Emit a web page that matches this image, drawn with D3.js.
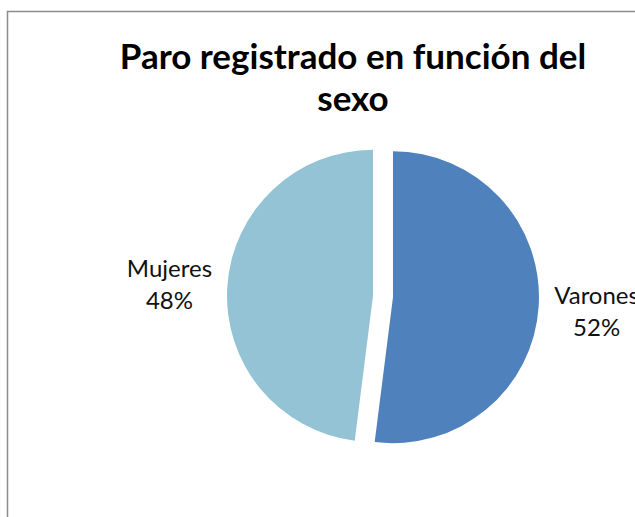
<!DOCTYPE html>
<html>
<head>
<meta charset="utf-8">
<script src="https://cdn.jsdelivr.net/npm/d3@7"></script>
<style>
  html, body { margin: 0; padding: 0; background: #fff; overflow: hidden; }
  svg { display: block; font-family: Lato, "Open Sans", sans-serif; }
</style>
</head>
<body>
<div id="chart"></div>
<script>
// Data
const categories = ["Varones", "Mujeres"];
const shares = [52, 48];
const colors = ["#4F81BD", "#93C3D4"];
const titleLines = ["Paro registrado en función del", "sexo"];

const width = 635, height = 517;
const cx = 383, cy = 296.5;
const radius = 146;
const explode = 10;

const svg = d3.select("#chart")
  .append("svg")
  .attr("width", width)
  .attr("height", height);

// chart border (extends past the right and bottom edges)
svg.append("rect")
  .attr("x", 7.5)
  .attr("y", 11.5)
  .attr("width", 700)
  .attr("height", 600)
  .attr("fill", "#fff")
  .attr("stroke", "#8c8c8c")
  .attr("stroke-width", 1.5);

// title
svg.append("text")
  .attr("x", 353)
  .attr("y", 69)
  .attr("text-anchor", "middle")
  .attr("font-size", 35)
  .attr("font-weight", "bold")
  .selectAll("tspan")
  .data(titleLines)
  .enter()
  .append("tspan")
  .attr("x", 353)
  .attr("dy", (d, i) => (i === 0 ? 0 : 42))
  .text((d) => d);

const data = categories.map((c, i) => ({ name: c, value: shares[i], color: colors[i] }));

const pie = d3.pie()
  .sort(null)
  .value((d) => d.value);

const arcs = pie(data);

const arc = d3.arc()
  .innerRadius(0)
  .outerRadius(radius);

const g = svg.append("g")
  .attr("transform", `translate(${cx},${cy})`);

g.selectAll("path")
  .data(arcs)
  .enter()
  .append("path")
  .attr("transform", (d) => {
    const a = (d.startAngle + d.endAngle) / 2;
    return `translate(${explode * Math.sin(a)},${-explode * Math.cos(a)})`;
  })
  .attr("d", arc)
  .attr("fill", (d) => d.data.color);

// labels
const labelR = 214;
const total = d3.sum(shares);
const labels = g.selectAll(".label")
  .data(arcs)
  .enter()
  .append("text")
  .attr("class", "label")
  .attr("text-anchor", "middle")
  .attr("font-size", 24)
  .attr("fill", "#111")
  .attr("transform", (d) => {
    const a = (d.startAngle + d.endAngle) / 2;
    return `translate(${labelR * Math.sin(a)},${-labelR * Math.cos(a)})`;
  });

labels.append("tspan")
  .attr("x", 0)
  .attr("y", -6)
  .text((d) => d.data.name);

labels.append("tspan")
  .attr("x", 0)
  .attr("y", 26)
  .text((d) => Math.round(d.data.value / total * 100) + "%");
</script>
</body>
</html>
